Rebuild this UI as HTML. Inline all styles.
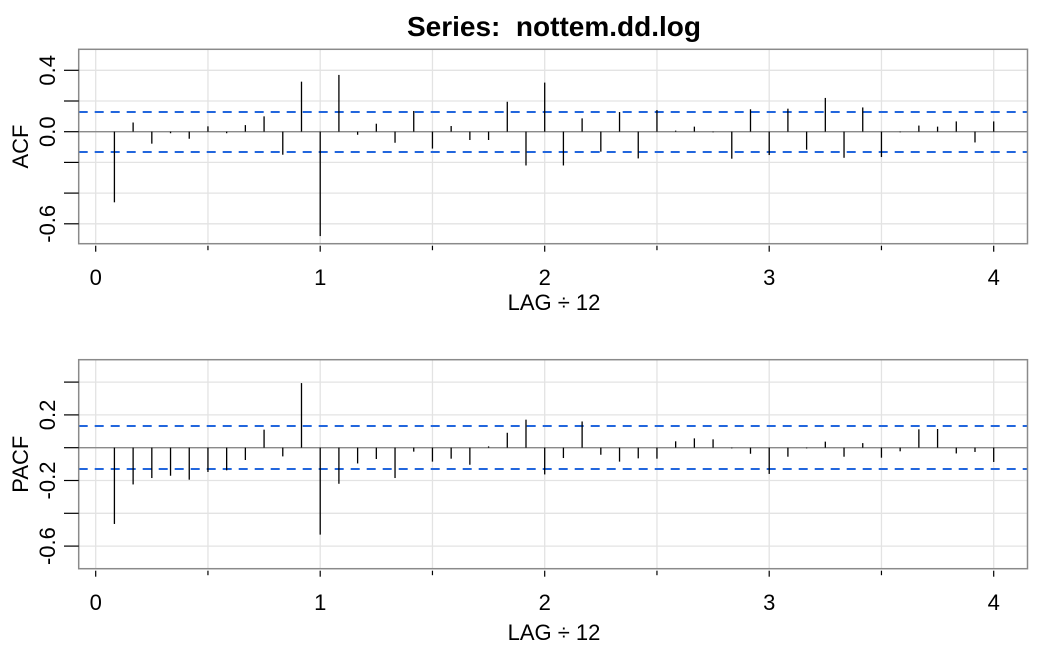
<!DOCTYPE html>
<html><head><meta charset="utf-8"><style>
body{margin:0;background:#fff;}
svg{display:block;font-family:"Liberation Sans",Arial,sans-serif;}
</style></head><body>
<svg id="chart" width="1050" height="648">
<text x="554" y="36" text-anchor="middle" font-size="28" font-weight="bold">Series:&#160; nottem.dd.log</text>
</svg>
<script>
const lags = [];
for (let i = 1; i <= 48; i++) lags.push(i / 12);
const acfValues = [-0.46,0.06,-0.078,-0.01,-0.046,0.035,-0.01,0.043,0.10,-0.15,0.326,-0.68,
0.37,-0.02,0.052,-0.072,0.135,-0.11,0.037,-0.054,-0.054,0.195,-0.22,0.32,
-0.22,0.087,-0.13,0.128,-0.174,0.141,0.007,0.033,-0.004,-0.176,0.146,-0.152,
0.15,-0.117,0.22,-0.17,0.158,-0.165,-0.004,0.04,0.033,0.067,-0.07,0.067];
const pacfValues = [-0.465,-0.224,-0.185,-0.171,-0.195,-0.148,-0.138,-0.075,0.11,-0.053,0.394,-0.53,
-0.22,-0.096,-0.069,-0.185,-0.024,-0.085,-0.067,-0.104,0.008,0.091,0.171,-0.163,
-0.063,0.16,-0.043,-0.085,-0.065,-0.067,0.039,0.057,0.051,-0.004,-0.037,-0.16,
-0.055,-0.004,0.037,-0.055,0.028,-0.061,-0.022,0.112,0.114,-0.035,-0.026,-0.087];
const acfBand = 0.13;
const pacfBand = 0.13;
const xTicks = [0,1,2,3,4];
const acfYTicks = [0.4,0.2,0,-0.2,-0.4,-0.6];
const acfYLabels = ["0.4","","0.0","","","-0.6"];
const pacfYTicks = [0.4,0.2,0,-0.2,-0.4,-0.6];
const pacfYLabels = ["","0.2","","-0.2","","-0.6"];

const NS = "http://www.w3.org/2000/svg";
const svg = document.getElementById('chart');
function mk(tag, attrs, parent){
  const e = document.createElementNS(NS, tag);
  for (const k in attrs) e.setAttribute(k, attrs[k]);
  (parent||svg).appendChild(e);
  return e;
}
const xL = 78.7, xR = 1027.5;
function xs(v){ return 95.7 + v * 224.5; }

function panel(name, top, bottom, zeroY, pxPer, values, band, yTicks, yLabels, ylab, xLabY, xTitleY){
  const g = mk('g', {});
  
  
  const ys = v => zeroY - v * pxPer;
  for (const t of yTicks){
    const l = mk('line', {x1:xL, x2:xR, y1:ys(t), y2:ys(t), stroke:'#e3e3e3', 'stroke-width':1.3}, g);
    
    
  }
  for (let v = 0; v <= 4; v += 0.5){
    const l = mk('line', {x1:xs(v), x2:xs(v), y1:top, y2:bottom, stroke:'#e3e3e3', 'stroke-width':1.3}, g);
    
    
  }
  const z = mk('line', {x1:xL, x2:xR, y1:ys(0), y2:ys(0), stroke:'#8a8a8a', 'stroke-width':1.3}, g);
  
  
  for (const b of [band, -band]){
    const yy = Math.round(ys(b));
    const l = mk('line', {x1:xL, x2:xR, y1:yy, y2:yy, stroke:'#2266dd', 'stroke-width':2, 'stroke-dasharray':'9,7'}, g);
    
    
  }
  values.forEach((v, i) => {
    const x = xs(lags[i]);
    const l = mk('line', {x1:x, x2:x, y1:ys(0), y2:ys(v), stroke:'#000', 'stroke-width':1.3}, g);
    
    
  });
  const r = mk('rect', {x:xL, y:top, width:xR - xL, height:bottom - top, fill:'none', stroke:'#8a8a8a', 'stroke-width':1.5}, g);
  
  
  yTicks.forEach((t, i) => {
    const y = ys(t);
    mk('line', {x1:64, x2:xL, y1:y, y2:y, stroke:'#000', 'stroke-width':1.2}, g);
    if (yLabels[i]){
      const tx = mk('text', {x:0, y:0, 'font-size':22, 'text-anchor':'middle', transform:`translate(55,${y}) rotate(-90)`}, g);
      tx.textContent = yLabels[i];
      
      
    }
  });
  for (let v = 0; v <= 4; v += 0.5){
    const major = Number.isInteger(v);
    mk('line', {x1:xs(v), x2:xs(v), y1:bottom + 2, y2:bottom + (major ? 8 : 6.5), stroke:'#000', 'stroke-width':1.2}, g);
  }
  xTicks.forEach(t => {
    const tx = mk('text', {x:xs(t), y:xLabY, 'font-size':22, 'text-anchor':'middle'}, g);
    tx.textContent = String(t);
    
    
  });
  const xt = mk('text', {x:554, y:xTitleY, 'font-size':22, 'text-anchor':'middle'}, g);
  xt.textContent = 'LAG ÷ 12';
  
  
  const yt = mk('text', {x:0, y:0, 'font-size':22, 'text-anchor':'middle', transform:`translate(28,${(top + bottom) / 2}) rotate(-90)`}, g);
  yt.textContent = ylab;
  
  
}
panel('acf', 49.3, 243.7, 131.7, 153.5, acfValues, acfBand, acfYTicks, acfYLabels, 'ACF', 285, 310);
panel('pacf', 359.7, 568.7, 447.7, 164, pacfValues, pacfBand, pacfYTicks, pacfYLabels, 'PACF', 610, 640);
</script>
</body></html>
